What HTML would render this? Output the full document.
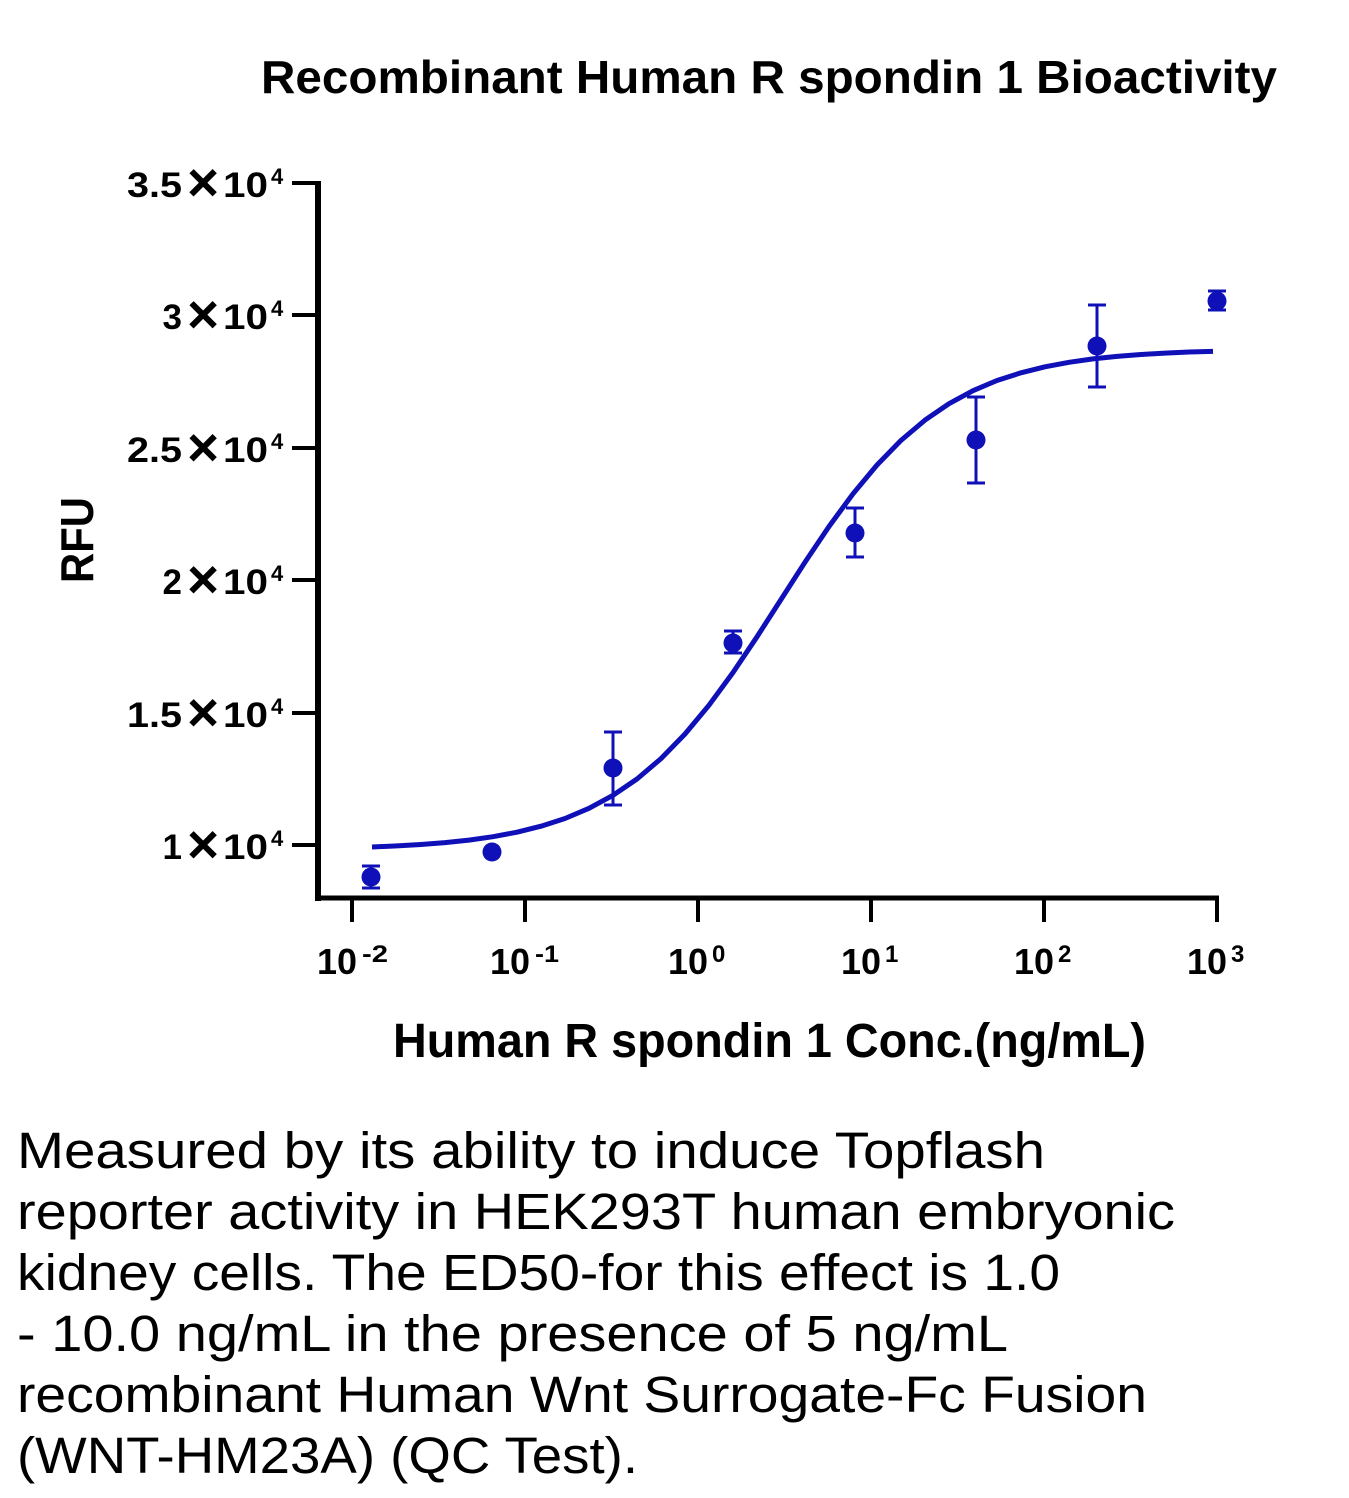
<!DOCTYPE html>
<html>
<head>
<meta charset="utf-8">
<style>
  html, body { margin: 0; padding: 0; background: #ffffff; }
  svg { display: block; }
  .b { font-family: "Liberation Sans", Arial, sans-serif; font-weight: bold; fill: #000; }
  .r { font-family: "Liberation Sans", Arial, sans-serif; fill: #000; }
</style>
</head>
<body>
<svg width="1349" height="1498" viewBox="0 0 1349 1498" xmlns="http://www.w3.org/2000/svg">
  <rect width="1349" height="1498" fill="#ffffff"/>

  <!-- Title -->
  <text class="b" x="261" y="93" font-size="46" textLength="1016" lengthAdjust="spacingAndGlyphs">Recombinant Human R spondin 1 Bioactivity</text>

  <!-- Y axis title -->
  <text class="b" transform="translate(93,540) rotate(-90)" x="0" y="0" font-size="46" text-anchor="middle" textLength="86" lengthAdjust="spacingAndGlyphs">RFU</text>

  <!-- Axes -->
  <line x1="318" y1="181" x2="318" y2="901" stroke="#000" stroke-width="6"/>
  <line x1="315" y1="898" x2="1219" y2="898" stroke="#000" stroke-width="5"/>

  <!-- Y ticks -->
  <g stroke="#000" stroke-width="4">
    <line x1="292" y1="183" x2="318" y2="183"/>
    <line x1="292" y1="315" x2="318" y2="315"/>
    <line x1="292" y1="448" x2="318" y2="448"/>
    <line x1="292" y1="580" x2="318" y2="580"/>
    <line x1="292" y1="713" x2="318" y2="713"/>
    <line x1="292" y1="845" x2="318" y2="845"/>
  </g>

  <!-- X ticks -->
  <g stroke="#000" stroke-width="4">
    <line x1="352" y1="898" x2="352" y2="922"/>
    <line x1="525" y1="898" x2="525" y2="922"/>
    <line x1="698" y1="898" x2="698" y2="922"/>
    <line x1="871" y1="898" x2="871" y2="922"/>
    <line x1="1044" y1="898" x2="1044" y2="922"/>
    <line x1="1217" y1="898" x2="1217" y2="922"/>
  </g>

  <!-- Y tick labels -->
  <g class="b">
    <!-- 3.5x10^4 @183 -->
    <text x="182" y="197" font-size="35" text-anchor="end" textLength="55" lengthAdjust="spacingAndGlyphs">3.5</text>
    <text x="203" y="201" font-size="55" text-anchor="middle">×</text>
    <text x="223" y="197" font-size="35" textLength="45" lengthAdjust="spacingAndGlyphs">10</text>
    <text x="271" y="184" font-size="22">4</text>
    <!-- 3x10^4 @315 -->
    <text x="182" y="329" font-size="35" text-anchor="end">3</text>
    <text x="203" y="333" font-size="55" text-anchor="middle">×</text>
    <text x="223" y="329" font-size="35" textLength="45" lengthAdjust="spacingAndGlyphs">10</text>
    <text x="271" y="316" font-size="22">4</text>
    <!-- 2.5x10^4 @448 -->
    <text x="182" y="462" font-size="35" text-anchor="end" textLength="55" lengthAdjust="spacingAndGlyphs">2.5</text>
    <text x="203" y="466" font-size="55" text-anchor="middle">×</text>
    <text x="223" y="462" font-size="35" textLength="45" lengthAdjust="spacingAndGlyphs">10</text>
    <text x="271" y="449" font-size="22">4</text>
    <!-- 2x10^4 @580 -->
    <text x="182" y="594" font-size="35" text-anchor="end">2</text>
    <text x="203" y="598" font-size="55" text-anchor="middle">×</text>
    <text x="223" y="594" font-size="35" textLength="45" lengthAdjust="spacingAndGlyphs">10</text>
    <text x="271" y="581" font-size="22">4</text>
    <!-- 1.5x10^4 @713 -->
    <text x="182" y="727" font-size="35" text-anchor="end" textLength="55" lengthAdjust="spacingAndGlyphs">1.5</text>
    <text x="203" y="731" font-size="55" text-anchor="middle">×</text>
    <text x="223" y="727" font-size="35" textLength="45" lengthAdjust="spacingAndGlyphs">10</text>
    <text x="271" y="714" font-size="22">4</text>
    <!-- 1x10^4 @845 -->
    <text x="182" y="859" font-size="35" text-anchor="end">1</text>
    <text x="203" y="863" font-size="55" text-anchor="middle">×</text>
    <text x="223" y="859" font-size="35" textLength="45" lengthAdjust="spacingAndGlyphs">10</text>
    <text x="271" y="846" font-size="22">4</text>
  </g>

  <!-- X tick labels -->
  <g class="b">
    <text x="317" y="974" font-size="36" textLength="40" lengthAdjust="spacingAndGlyphs">10</text>
    <text x="362" y="962" font-size="24" textLength="26" lengthAdjust="spacingAndGlyphs">-2</text>

    <text x="490" y="974" font-size="36" textLength="40" lengthAdjust="spacingAndGlyphs">10</text>
    <text x="535" y="962" font-size="24" textLength="24" lengthAdjust="spacingAndGlyphs">-1</text>

    <text x="668" y="974" font-size="36" textLength="40" lengthAdjust="spacingAndGlyphs">10</text>
    <text x="712" y="962" font-size="24">0</text>

    <text x="841" y="974" font-size="36" textLength="40" lengthAdjust="spacingAndGlyphs">10</text>
    <text x="885" y="962" font-size="24">1</text>

    <text x="1014" y="974" font-size="36" textLength="40" lengthAdjust="spacingAndGlyphs">10</text>
    <text x="1058" y="962" font-size="24">2</text>

    <text x="1187" y="974" font-size="36" textLength="40" lengthAdjust="spacingAndGlyphs">10</text>
    <text x="1231" y="962" font-size="24">3</text>
  </g>

  <!-- X axis title -->
  <text class="b" x="393" y="1057" font-size="48" textLength="753" lengthAdjust="spacingAndGlyphs">Human R spondin 1 Conc.(ng/mL)</text>

  <!-- Fitted curve -->
  <polyline fill="none" stroke="#1010b8" stroke-width="5" stroke-linejoin="round"
    points="372,847 397,845.9 421,844.5 445,842.6 469,840.1 493,836.7 517,832.2 541,826.2 565,818.5 589,808.3 613,795.3 637,779 661,758.6 685,734 709,705.2 733,672.5 757,636.8 781,599.5 805,562.2 829,526.5 853,493.8 877,465 901,440.4 925,420.1 949,403.7 973,390.7 997,380.5 1021,372.8 1045,366.8 1069,362.3 1093,358.9 1117,356.4 1141,354.5 1165,353.1 1189,352 1213,351.4"/>

  <!-- Error bars -->
  <g stroke="#1010b8" stroke-width="3" fill="none">
    <line x1="371" y1="866" x2="371" y2="888"/><line x1="362" y1="866" x2="380" y2="866"/><line x1="362" y1="888" x2="380" y2="888"/>
    <line x1="613" y1="732" x2="613" y2="805"/><line x1="604" y1="732" x2="622" y2="732"/><line x1="604" y1="805" x2="622" y2="805"/>
    <line x1="733" y1="631" x2="733" y2="653"/><line x1="724" y1="631" x2="742" y2="631"/><line x1="724" y1="653" x2="742" y2="653"/>
    <line x1="855" y1="508" x2="855" y2="557"/><line x1="846" y1="508" x2="864" y2="508"/><line x1="846" y1="557" x2="864" y2="557"/>
    <line x1="976" y1="397" x2="976" y2="483"/><line x1="967" y1="397" x2="985" y2="397"/><line x1="967" y1="483" x2="985" y2="483"/>
    <line x1="1097" y1="305" x2="1097" y2="387"/><line x1="1088" y1="305" x2="1106" y2="305"/><line x1="1088" y1="387" x2="1106" y2="387"/>
    <line x1="1217" y1="291" x2="1217" y2="310"/><line x1="1208" y1="291" x2="1226" y2="291"/><line x1="1208" y1="310" x2="1226" y2="310"/>
  </g>

  <!-- Data points -->
  <g fill="#1010b8">
    <circle cx="371" cy="877" r="9.5"/>
    <circle cx="492" cy="852" r="9.5"/>
    <circle cx="613" cy="768" r="9.5"/>
    <circle cx="733" cy="643" r="9.5"/>
    <circle cx="855" cy="533" r="9.5"/>
    <circle cx="976" cy="440" r="9.5"/>
    <circle cx="1097" cy="346" r="9.5"/>
    <circle cx="1217" cy="301" r="9.5"/>
  </g>

  <!-- Description -->
  <g class="r" font-size="51">
    <text x="17" y="1168" textLength="1028" lengthAdjust="spacingAndGlyphs">Measured by its ability to induce Topflash</text>
    <text x="17" y="1229" textLength="1158" lengthAdjust="spacingAndGlyphs">reporter activity in HEK293T human embryonic</text>
    <text x="17" y="1290" textLength="1043" lengthAdjust="spacingAndGlyphs">kidney cells. The ED50-for this effect is 1.0</text>
    <text x="17" y="1351" textLength="991" lengthAdjust="spacingAndGlyphs">- 10.0 ng/mL in the presence of 5 ng/mL</text>
    <text x="17" y="1412" textLength="1130" lengthAdjust="spacingAndGlyphs">recombinant Human Wnt Surrogate-Fc Fusion</text>
    <text x="17" y="1473" textLength="621" lengthAdjust="spacingAndGlyphs">(WNT-HM23A) (QC Test).</text>
  </g>
</svg>
</body>
</html>
